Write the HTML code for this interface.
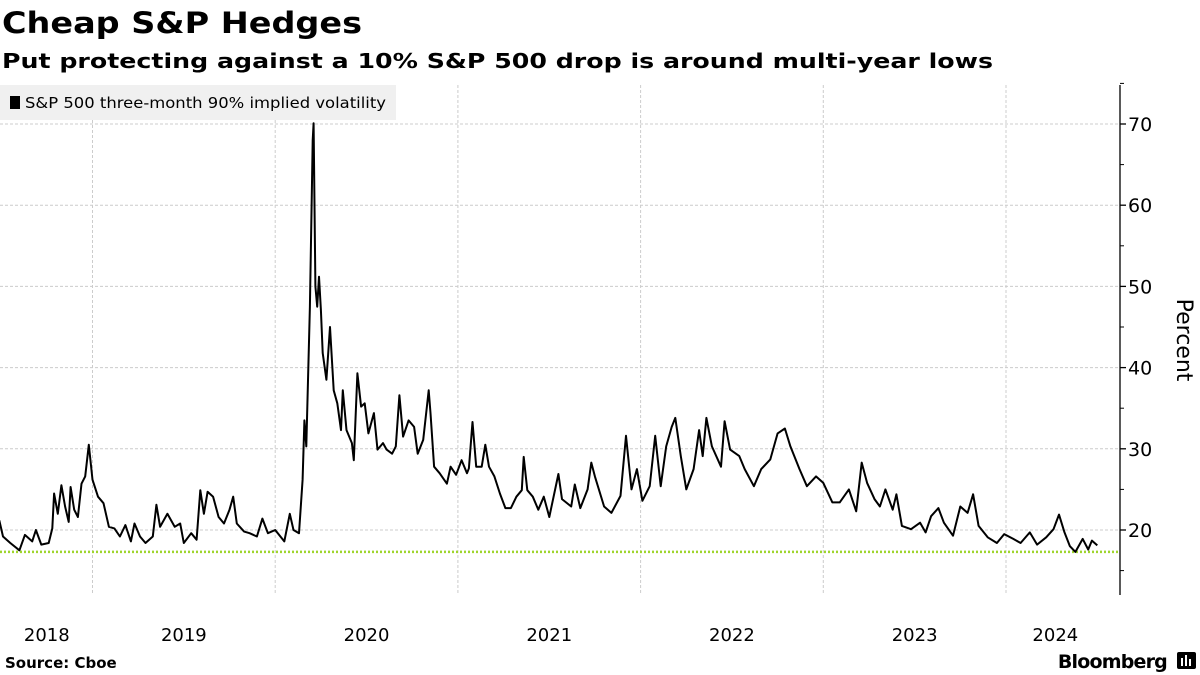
<!DOCTYPE html>
<html><head><meta charset="utf-8"><style>
html,body{margin:0;padding:0;background:#fff;}
svg{display:block;}
</style></head><body>
<svg id="chart" width="1200" height="675" viewBox="0 0 1200 675" xmlns="http://www.w3.org/2000/svg">
<text x="2" y="33" font-family="'DejaVu Sans', sans-serif" font-weight="bold" font-size="29" textLength="360" lengthAdjust="spacingAndGlyphs">Cheap S&amp;P Hedges</text>
<text x="2" y="68" font-family="'DejaVu Sans', sans-serif" font-weight="bold" font-size="20" textLength="991" lengthAdjust="spacingAndGlyphs">Put protecting against a 10% S&amp;P 500 drop is around multi-year lows</text>
<g id="grid"></g>
<line id="lowline" x1="0" x2="1120" stroke="#9fd52e" stroke-width="2.5" stroke-dasharray="2,2"/>
<path id="series" fill="none" stroke="#000" stroke-width="2" stroke-linejoin="round"/>
<rect x="0" y="85" width="396" height="35" fill="#f0f0f0"/>
<rect x="10" y="96" width="10" height="13" fill="#000"/>
<text x="25" y="108" font-family="'DejaVu Sans', sans-serif" font-size="15" textLength="361" lengthAdjust="spacingAndGlyphs">S&amp;P 500 three-month 90% implied volatility</text>
<g id="axis"></g>
<g id="xlabels"></g>
<text transform="translate(1177,340) rotate(90)" text-anchor="middle" font-family="'DejaVu Sans', sans-serif" font-size="22">Percent</text>
<text x="5" y="668" font-family="'DejaVu Sans', sans-serif" font-weight="bold" font-size="15">Source: Cboe</text>
<text x="1167" y="668" text-anchor="end" font-family="'DejaVu Sans', sans-serif" font-weight="bold" font-size="19" letter-spacing="-0.8">Bloomberg</text>
<g><rect x="1177" y="652" width="19" height="17" rx="2" fill="#000"/><rect x="1181" y="658" width="2" height="8" fill="#fff"/><rect x="1185" y="655" width="2" height="11" fill="#fff"/><rect x="1189" y="659" width="2" height="7" fill="#fff"/></g>
</svg>
<script>
const dates = [2018.49,2018.51,2018.55,2018.60,2018.63,2018.67,2018.69,2018.72,2018.76,2018.78,2018.79,2018.81,2018.83,2018.85,2018.87,2018.88,2018.90,2018.92,2018.94,2018.96,2018.98,2019.00,2019.03,2019.06,2019.09,2019.12,2019.15,2019.18,2019.21,2019.23,2019.26,2019.29,2019.33,2019.35,2019.37,2019.41,2019.45,2019.48,2019.50,2019.54,2019.57,2019.59,2019.61,2019.63,2019.66,2019.69,2019.72,2019.75,2019.77,2019.79,2019.83,2019.86,2019.90,2019.93,2019.96,2020.00,2020.05,2020.08,2020.10,2020.13,2020.15,2020.16,2020.17,2020.19,2020.20,2020.205,2020.21,2020.22,2020.23,2020.24,2020.25,2020.26,2020.28,2020.30,2020.32,2020.34,2020.36,2020.37,2020.39,2020.42,2020.43,2020.45,2020.47,2020.49,2020.51,2020.54,2020.56,2020.59,2020.61,2020.64,2020.66,2020.68,2020.70,2020.73,2020.76,2020.78,2020.81,2020.84,2020.85,2020.87,2020.90,2020.94,2020.96,2020.99,2021.02,2021.05,2021.06,2021.08,2021.10,2021.13,2021.15,2021.17,2021.20,2021.23,2021.26,2021.29,2021.32,2021.35,2021.36,2021.38,2021.41,2021.44,2021.47,2021.50,2021.55,2021.57,2021.62,2021.64,2021.67,2021.71,2021.73,2021.75,2021.80,2021.84,2021.89,2021.92,2021.95,2021.98,2022.01,2022.05,2022.08,2022.11,2022.14,2022.17,2022.19,2022.22,2022.25,2022.29,2022.32,2022.34,2022.36,2022.39,2022.44,2022.46,2022.49,2022.54,2022.57,2022.62,2022.66,2022.71,2022.75,2022.79,2022.82,2022.87,2022.91,2022.96,2023.00,2023.05,2023.09,2023.14,2023.18,2023.21,2023.24,2023.28,2023.31,2023.34,2023.38,2023.40,2023.43,2023.48,2023.53,2023.56,2023.59,2023.63,2023.66,2023.71,2023.75,2023.79,2023.82,2023.85,2023.90,2023.95,2023.99,2024.04,2024.08,2024.13,2024.17,2024.22,2024.26,2024.29,2024.32,2024.35,2024.38,2024.42,2024.45,2024.47,2024.50];
const values = [21.2,19.2,18.4,17.5,19.4,18.6,20.0,18.2,18.4,20.2,24.5,22.0,25.5,22.9,21.0,25.3,22.5,21.6,25.7,26.6,30.5,26.2,24.1,23.3,20.4,20.2,19.2,20.6,18.6,20.8,19.2,18.4,19.2,23.1,20.4,22.0,20.4,20.8,18.4,19.6,18.8,24.9,22.0,24.7,24.1,21.6,20.8,22.5,24.1,20.8,19.8,19.6,19.2,21.4,19.6,20.0,18.6,22.0,20.0,19.6,26.2,33.5,30.3,47.5,60.6,68.0,70.1,50.0,47.5,51.2,47.1,41.8,38.5,45.0,37.2,35.6,32.3,37.2,32.3,30.7,28.6,39.3,35.2,35.6,31.9,34.4,29.9,30.7,29.9,29.4,30.3,36.6,31.5,33.5,32.7,29.4,31.1,37.2,34.4,27.8,27.0,25.7,27.8,26.8,28.6,27.0,27.6,33.3,27.8,27.8,30.5,27.8,26.6,24.5,22.7,22.7,24.1,24.9,29.0,24.9,24.1,22.5,24.1,21.6,26.9,23.8,22.9,25.6,22.7,25.0,28.3,26.6,22.9,22.1,24.2,31.6,25.0,27.5,23.6,25.4,31.6,25.4,30.3,32.7,33.8,29.1,25.0,27.5,32.3,29.1,33.8,30.3,27.8,33.4,29.9,29.1,27.5,25.4,27.5,28.7,31.9,32.5,30.3,27.5,25.4,26.6,25.8,23.4,23.4,25.0,22.3,28.3,25.8,23.8,22.9,25.0,22.5,24.4,20.5,20.1,20.9,19.7,21.7,22.7,20.9,19.3,22.9,22.1,24.4,20.5,19.1,18.4,19.5,18.9,18.4,19.7,18.2,19.1,20.1,21.9,19.7,18.0,17.3,18.9,17.6,18.7,18.1];
const yTicks = [20,30,40,50,60,70];
const yMinorTicks = [15,25,35,45,55,65,75];
const yearStarts = [2019,2020,2021,2022,2023,2024];
const yearLabels = ["2018","2019","2020","2021","2022","2023","2024"];
const yearLabelPos = [2018.75,2019.5,2020.5,2021.5,2022.5,2023.5,2024.27];
const lowLevel = 17.3;

const NS = "http://www.w3.org/2000/svg";
const X = t => 92.5 + (t - 2019) * 182.7;
const Y = v => 530 - (v - 20) * 8.12;
const PLOT_TOP = 85, PLOT_BOT = 595, AXIS_X = 1120;
function mk(tag, attrs, parent){const e=document.createElementNS(NS,tag);for(const k in attrs)e.setAttribute(k,attrs[k]);parent.appendChild(e);return e;}

const grid = document.getElementById('grid');
yTicks.forEach(v=>{
  const l = mk('line',{x1:0,x2:AXIS_X,y1:Y(v),y2:Y(v),stroke:'#cccccc','stroke-width':1,'stroke-dasharray':'3,2'},grid);
  
  
});
yearStarts.forEach(t=>{
  const l = mk('line',{x1:X(t),x2:X(t),y1:PLOT_TOP,y2:PLOT_BOT,stroke:'#cccccc','stroke-width':1,'stroke-dasharray':'3,2'},grid);
  
  
});

const low = document.getElementById('lowline');
low.setAttribute('y1',Y(lowLevel)); low.setAttribute('y2',Y(lowLevel));

let d='';
dates.forEach((t,i)=>{d+=(i?'L':'M')+X(t).toFixed(1)+','+Y(values[i]).toFixed(1);});
document.getElementById('series').setAttribute('d',d);

const axis = document.getElementById('axis');
const al = mk('line',{x1:AXIS_X,x2:AXIS_X,y1:PLOT_TOP,y2:PLOT_BOT,stroke:'#000','stroke-width':1.3},axis);


yTicks.forEach(v=>{
  const tk = mk('line',{x1:AXIS_X,x2:AXIS_X+6,y1:Y(v),y2:Y(v),stroke:'#000','stroke-width':1.3},axis);
  
  
  const tx = mk('text',{x:AXIS_X+8,y:Y(v)+7,'font-family':"'DejaVu Sans', sans-serif",'font-size':19},axis);
  tx.textContent = v;
  
  
});
yMinorTicks.forEach(v=>{
  const tk = mk('line',{x1:AXIS_X,x2:AXIS_X+4,y1:Y(v),y2:Y(v),stroke:'#000','stroke-width':1},axis);
  
  
});
const xl = document.getElementById('xlabels');
yearLabels.forEach((s,i)=>{
  const tx = mk('text',{x:X(yearLabelPos[i]),y:641,'text-anchor':'middle','font-family':"'DejaVu Sans', sans-serif",'font-size':18},xl);
  tx.textContent = s;
  
  
});
</script>
</body></html>
